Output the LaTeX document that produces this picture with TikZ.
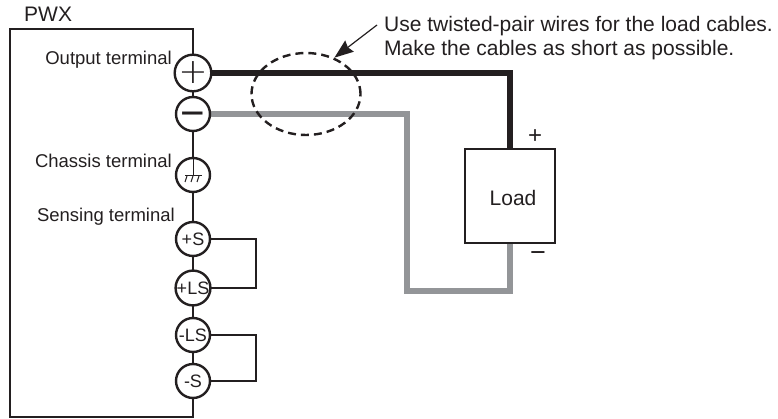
\documentclass[tikz,border=0pt]{standalone}
\usepackage{fontspec}
\setmainfont{Liberation Sans}
\newfontfamily\thinfont{DejaVu Sans ExtraLight}
\usetikzlibrary{arrows.meta,shapes.geometric}
\definecolor{inkblack}{HTML}{231F20}
\definecolor{wiregray}{HTML}{939598}
\newcommand{\lblsize}{\fontsize{18.5}{24}\selectfont}
\newcommand{\txtsize}{\fontsize{21}{24}\selectfont}
\newcommand{\trmsize}{\fontsize{18}{20}\selectfont}

\begin{document}
\begin{tikzpicture}[x=1pt,y=-1pt,inkblack,line width=2.4pt,
    term/.style={draw,circle,fill=white,minimum size=34pt,inner sep=0pt,font=\trmsize},
    lbl/.style={inner sep=0pt,font=\lblsize,anchor=east},
    note/.style={inner sep=0pt,font=\txtsize,anchor=west},
    unit/.style={draw,inner sep=0pt},
    hotwire/.style={line width=6pt},
    retwire/.style={line width=6pt,draw=wiregray}]
    \useasboundingbox (0,0) rectangle (778,419);
    \node[note]                                                   (PWX)  at (23,14)   {PWX};
    \node[unit,minimum width=183pt,minimum height=388pt]          (Box)  at (101.5,223) {};
    \node[unit,minimum width=90pt,minimum height=94pt]            (Load) at (510,196) {};
    \node[note,anchor=center]                                     (LoadT) at (513,198) {Load};
    \coordinate (Gr)  at (407,291);
    \coordinate (LkP) at (256,264);
    \coordinate (LkM) at (256,357);
    \coordinate (Ns)  at (377,25);

    % wires go under the terminals
    \draw[hotwire] (193,73) -| (Load);
    \draw[retwire] (193,114) -| (Gr) -| (Load);
    \draw (193,239) -| (LkP) |- (193,288);
    \draw (193,335) -| (LkM) |- (193,381);

    \node[term,font=\thinfont\fontsize{35}{35}\selectfont]    (Tp)  at (193,73)  {\raisebox{-1pt}{+}};
    \node[term,font=\fontsize{42}{42}\selectfont] [below of=Tp,node distance=41pt]  (Tm) {\raisebox{-14pt}[0pt][0pt]{−}};
    \node[term]    [below of=Tm,node distance=61pt]     (Tc)                {};
    \node[term]    [below of=Tc,node distance=64pt]     (Sp)                {+S};
    \node[term]    [below of=Sp,node distance=49pt]     (Lp)                {+LS};
    \node[term]    [below of=Lp,node distance=47pt]     (Lm)                {-LS};
    \node[term]    [below of=Lm,node distance=46pt]     (Sm)                {-S};

    % chassis ground
    \draw[line width=1pt] (Tc.north) -- ([yshift=-1pt]Tc.center);
    \draw[line width=1pt] ([shift={(-8pt,-1pt)}]Tc.center) -- ([shift={(9pt,-1pt)}]Tc.center);
    \foreach \d in {-6,0,6}
        \draw[line width=1pt] ([shift={(\d pt,-1pt)}]Tc.center) -- ([shift={(\d pt-2pt,-7pt)}]Tc.center);

    \node[lbl] (Lo) at (173,60)  {Output terminal};
    \node[lbl] (Lc) at (173,161) {Chassis terminal};
    \node[lbl] (Ls) at (176,217) {Sensing terminal};

    \node[inner sep=0pt,font=\fontsize{24}{24}\selectfont] (Pl) at (535,137) {+};
    \node[inner sep=0pt,font=\fontsize{27}{27}\selectfont] (Mi) at (538,257) {−};

    \node[draw,dash pattern=on 8pt off 5pt,ellipse,minimum width=109pt,minimum height=82pt,inner sep=0pt] (Tw) at (306,94) {};
    \node[note,align=left] (Nt) at (383,38)
        {Use twisted-pair wires for the load cables.\\Make the cables as short as possible.};
    \draw[line width=1.2pt,-{Stealth[length=19pt,width=14pt,inset=2pt]}] (Ns) -- (Tw.52);
\end{tikzpicture}
\end{document}
